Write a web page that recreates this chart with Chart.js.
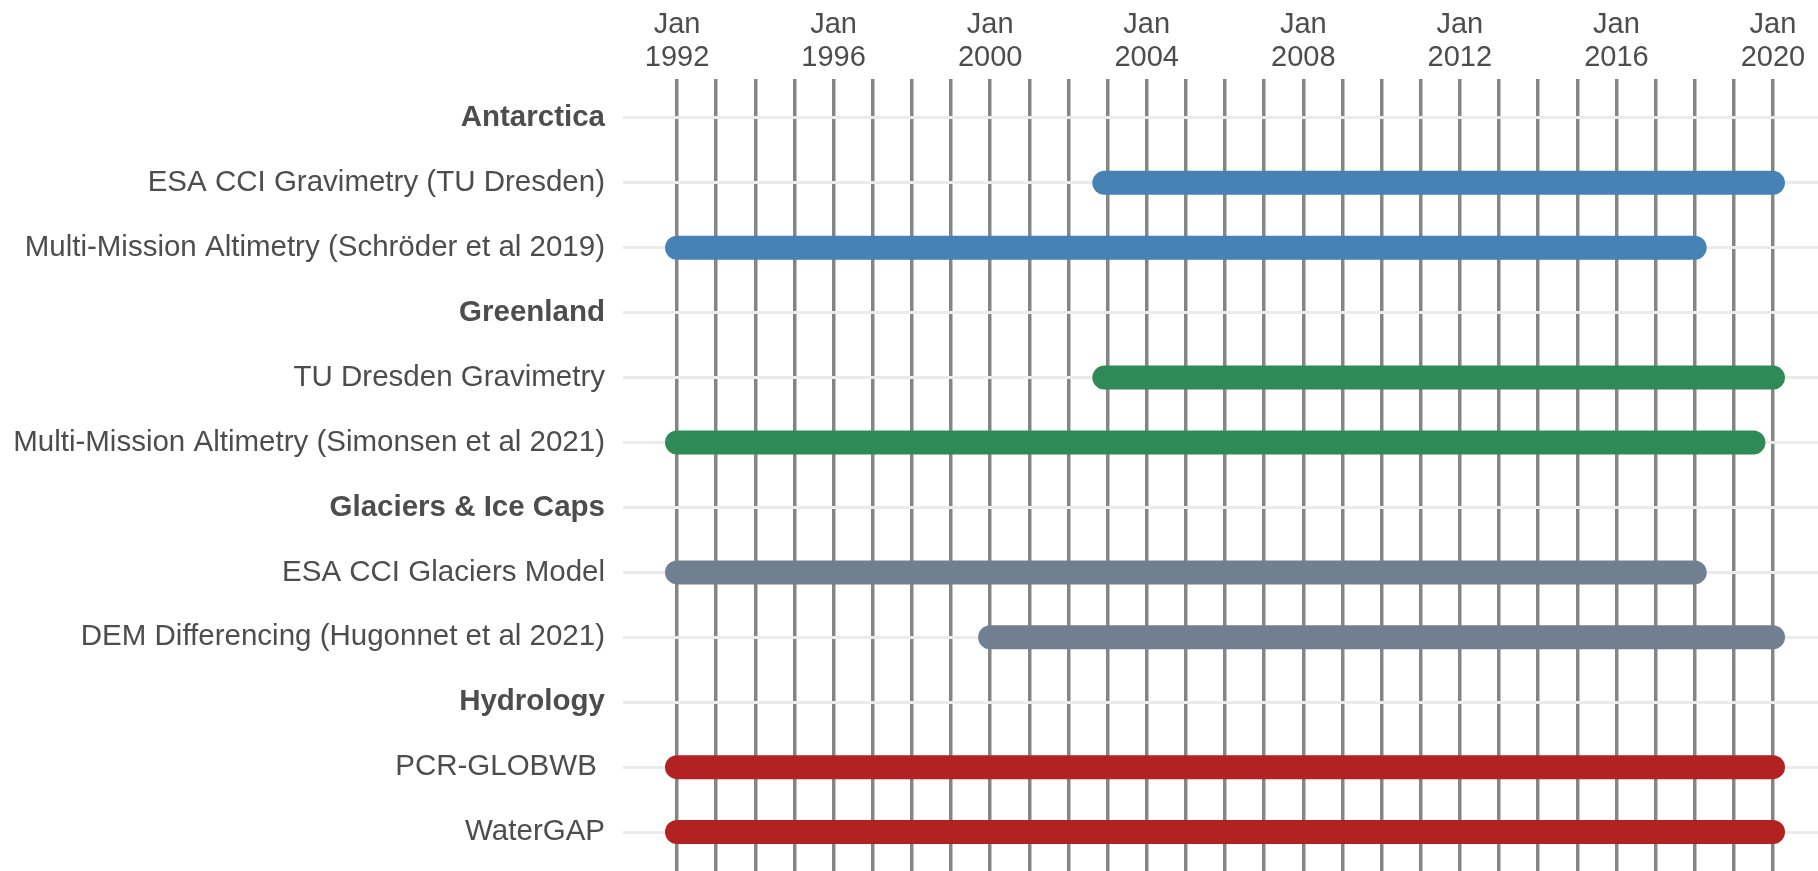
<!DOCTYPE html>
<html>
<head>
<meta charset="utf-8">
<script src="https://cdn.jsdelivr.net/npm/chart.js@4"></script>
<style>
  html, body { margin: 0; padding: 0; background: #fff; }
  canvas { display: block; }
</style>
</head>
<body>
<canvas id="timeline" width="1818" height="871"></canvas>
<script>
// rows top to bottom; headers have no period
const rows = [
    'Antarctica',
    'ESA CCI Gravimetry (TU Dresden)',
    'Multi-Mission Altimetry (Schröder et al 2019)',
    'Greenland',
    'TU Dresden Gravimetry',
    'Multi-Mission Altimetry (Simonsen et al 2021)',
    'Glaciers & Ice Caps',
    'ESA CCI Glaciers Model',
    'DEM Differencing (Hugonnet et al 2021)',
    'Hydrology',
    'PCR-GLOBWB ',
    'WaterGAP'
];
const headers = ['Antarctica', 'Greenland', 'Glaciers & Ice Caps', 'Hydrology'];

// periods, null for header rows
const starts = [null, '2002-12', '1992-01', null, '2002-12', '1992-01', null, '1992-01', '2000-01', null, '1992-01', '1992-01'];
const ends   = [null, '2020-01', '2018-01', null, '2020-01', '2019-07', null, '2018-01', '2020-01', null, '2020-01', '2020-01'];
const groupOf = ['', 'Antarctica', 'Antarctica', '', 'Greenland', 'Greenland', '', 'Glaciers', 'Glaciers', '', 'Hydrology', 'Hydrology'];

const groupColors = {
    Antarctica: '#4682B4',
    Greenland: '#2E8B57',
    Glaciers: '#708090',
    Hydrology: '#B22222'
};

const firstYear = 1992;
const lastYear = 2020;
const labelEvery = 4;

function toYear(s) {
    const [y, m] = s.split('-').map(Number);
    return y + (m - 1) / 12;
}

const datasets = [];
rows.forEach((name, i) => {
    if (!starts[i]) return;
    datasets.push({
        label: name,
        data: [{ x: toYear(starts[i]), y: i }, { x: toYear(ends[i]), y: i }],
        borderColor: groupColors[groupOf[i]],
        borderWidth: 24,
        borderCapStyle: 'round',
        pointRadius: 0,
        fill: false
    });
});

const textColor = '#4d4d4d';
const fontFamily = '"Liberation Sans", Arial, Helvetica, sans-serif';

new Chart(document.getElementById('timeline'), {
    type: 'line',
    data: { datasets: datasets },
    options: {
        responsive: false,
        animation: false,
        layout: { padding: 0 },
        plugins: {
            legend: { display: false },
            tooltip: { enabled: false }
        },
        scales: {
            x: {
                type: 'linear',
                position: 'top',
                min: 1990.62,
                max: 2021.15,
                border: { display: false },
                grid: { color: '#858585', lineWidth: 3.5, drawTicks: false },
                afterBuildTicks: (scale) => {
                    const t = [];
                    for (let y = firstYear; y <= lastYear; y++) t.push({ value: y });
                    scale.ticks = t;
                },
                afterFit: (scale) => {
                    scale.height = 79;
                    scale.paddingLeft = 0;
                    scale.paddingRight = 0;
                },
                ticks: {
                    autoSkip: false,
                    maxRotation: 0,
                    padding: 5,
                    color: textColor,
                    font: { family: fontFamily, size: 29, lineHeight: 1.12 },
                    callback: (v) => ((v - firstYear) % labelEvery === 0 ? ['Jan', String(v)] : '')
                }
            },
            y: {
                type: 'linear',
                reverse: true,
                min: -0.6,
                max: rows.length - 1 + 0.6,
                border: { display: false },
                grid: { color: '#ebebeb', lineWidth: 3, drawTicks: false },
                afterBuildTicks: (scale) => {
                    scale.ticks = rows.map((_, i) => ({ value: i }));
                },
                afterFit: (scale) => {
                    scale.width = 623;
                    scale.paddingTop = 0;
                    scale.paddingBottom = 0;
                },
                ticks: {
                    autoSkip: false,
                    padding: 18,
                    color: textColor,
                    font: (ctx) => ({
                        family: fontFamily,
                        size: 29.5,
                        weight: headers.includes(rows[ctx.index]) ? 'bold' : 'normal'
                    }),
                    callback: (v) => rows[v]
                }
            }
        }
    }
});
</script>
</body>
</html>
